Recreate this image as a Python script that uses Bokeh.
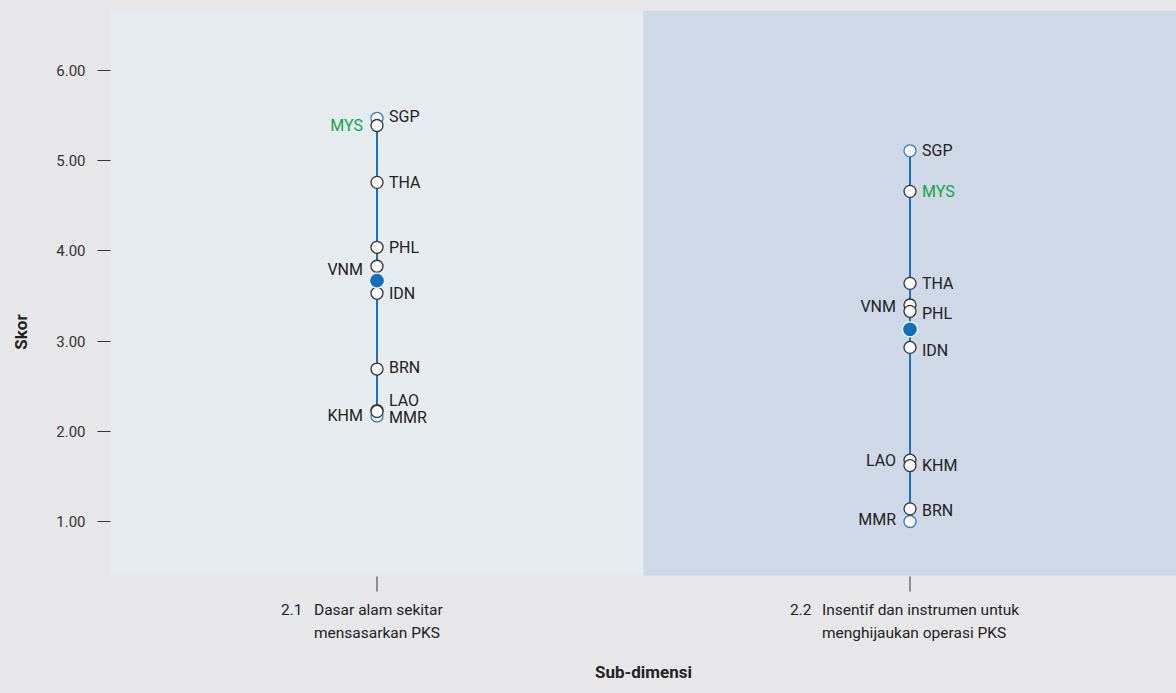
from bokeh.plotting import figure
from bokeh.models import ColumnDataSource, FixedTicker, NumeralTickFormatter, Range1d
from bokeh.core.properties import value
from bokeh.embed import file_html
from bokeh.resources import INLINE

# ---------------- data ----------------
subdim_codes = ["2.1", "2.2"]
subdim_names = [["Dasar alam sekitar", "mensasarkan PKS"],
                ["Insentif dan instrumen untuk", "menghijaukan operasi PKS"]]
countries = ["SGP", "MYS", "THA", "PHL", "VNM", "IDN", "BRN", "LAO", "KHM", "MMR"]
scores_21 = [5.47, 5.39, 4.76, 4.04, 3.83, 3.53, 2.69, 2.23, 2.22, 2.17]
scores_22 = [5.11, 4.66, 3.64, 3.33, 3.40, 2.93, 1.14, 1.68, 1.62, 1.00]
mean_scores = [3.67, 3.13]
y_ticks = [1, 2, 3, 4, 5, 6]
highlight = "MYS"

# label placement (side, vertical pixel nudge) -- styling only
label_place = [
    {"SGP": ("R", -2), "MYS": ("L", 0), "THA": ("R", 0), "PHL": ("R", 0), "VNM": ("L", 3),
     "IDN": ("R", 0), "BRN": ("R", -2), "LAO": ("R", -10), "KHM": ("L", 4), "MMR": ("R", 2)},
    {"SGP": ("R", 0), "MYS": ("R", 0), "THA": ("R", 0), "PHL": ("R", 2), "VNM": ("L", 1),
     "IDN": ("R", 3), "BRN": ("R", 2), "LAO": ("L", 0), "KHM": ("R", 0), "MMR": ("L", -2)},
]

# ---------------- style ----------------
FONT = "Roboto"
PAGE_BG = "#E7E7E9"
PANEL_COLORS = ["#E6EBF0", "#CED8E6"]
LINE_BLUE = "#1A72BA"
MEAN_BLUE = "#1170B8"
EXT_BLUE = "#2A7FC4"
DARK = "#333333"
TEXT = "#222222"
GREEN = "#14A24B"

W, H = 1176, 693
BORDER_L, BORDER_T, BORDER_B = 110, 10, 40
frame_top, frame_bot = BORDER_T, H - BORDER_B
ppu = (521 - 70) / 5.0
y_end = 6 + (70 - frame_top) / ppu
y_start = 1 - (frame_bot - 521) / ppu
panel_bottom = 1 - (575 - 521) / ppu
x_end = (W - BORDER_L) / 533.0

p = figure(width=W, height=H, output_backend="svg", toolbar_location=None,
           x_range=Range1d(0, x_end), y_range=Range1d(y_start, y_end),
           min_border_left=BORDER_L, min_border_right=0, min_border_top=BORDER_T,
           min_border_bottom=BORDER_B)
p.styles = {"background-color": PAGE_BG}
p.background_fill_alpha = 0
p.border_fill_alpha = 0
p.outline_line_color = None
p.grid.visible = False

# panels
p.quad(left=[0, 1], right=[1, 2], bottom=[panel_bottom] * 2, top=[y_end] * 2,
       fill_color=PANEL_COLORS, line_color=None)

all_scores = [scores_21, scores_22]
lab = dict(x=[], y=[], text=[], color=[], align=[], xo=[], yo=[])
for i, sc in enumerate(all_scores):
    xc = i + 0.5
    lo, hi = min(sc), max(sc)
    p.segment(x0=[xc], y0=[lo], x1=[xc], y1=[hi], line_color=LINE_BLUE, line_width=2)
    ext = [s for s in sc if s in (lo, hi)]
    p.scatter(x=[xc] * len(ext), y=ext, size=12, fill_color="white",
              line_color=EXT_BLUE, line_width=1.3)
    others = sorted([s for s in sc if s not in (lo, hi)], reverse=True)
    p.scatter(x=[xc] * len(others), y=others, size=12, fill_color="white",
              line_color=DARK, line_width=1.3)
    p.scatter(x=[xc], y=[mean_scores[i]], size=15, fill_color=MEAN_BLUE,
              line_color="white", line_width=1.2)
    for c, s in zip(countries, sc):
        side, dy = label_place[i][c]
        lab["x"].append(xc)
        lab["y"].append(s)
        lab["text"].append(c)
        lab["color"].append(GREEN if c == highlight else TEXT)
        lab["align"].append("left" if side == "R" else "right")
        lab["xo"].append(12 if side == "R" else -14)
        lab["yo"].append(dy)

src = ColumnDataSource(lab)
p.text(x="x", y="y", text="text", source=src, text_color="color", text_align="align",
       x_offset="xo", y_offset="yo", text_baseline="middle",
       text_font=value(FONT), text_font_size="16px")

# category ticks and labels
for i, (code, lines) in enumerate(zip(subdim_codes, subdim_names)):
    xc = i + 0.5
    p.segment(x0=[xc], y0=[panel_bottom - 1 / ppu], x1=[xc], y1=[panel_bottom - 16 / ppu],
              line_color=DARK, line_width=1)
    code_off = -96 if i == 0 else -120
    body_off = -63 if i == 0 else -88
    p.text(x=[xc], y=[panel_bottom], text=[code], x_offset=code_off, y_offset=34,
           text_align="left", text_baseline="middle", text_font=value(FONT),
           text_font_size="15.5px", text_color=TEXT)
    p.text(x=[xc, xc], y=[panel_bottom, panel_bottom], text=lines, x_offset=body_off,
           y_offset=[34, 57], text_align="left", text_baseline="middle",
           text_font=value(FONT), text_font_size="15.5px", text_color=TEXT)

# y axis
ya = p.yaxis[0]
ya.ticker = FixedTicker(ticks=y_ticks)
ya.formatter = NumeralTickFormatter(format="0.00")
ya.axis_line_color = None
ya.major_tick_out = 13
ya.major_tick_in = 0
ya.minor_tick_line_color = None
ya.major_tick_line_color = DARK
ya.major_label_standoff = 12
ya.major_label_text_font = FONT
ya.major_label_text_font_size = "15px"
ya.major_label_text_color = DARK
ya.axis_label = "Skor"
ya.axis_label_text_font = FONT
ya.axis_label_text_font_style = "bold"
ya.axis_label_text_font_size = "17px"
ya.axis_label_text_color = TEXT
ya.axis_label_standoff = 22

# x axis (title only)
xa = p.xaxis[0]
xa.ticker = FixedTicker(ticks=[])
xa.axis_line_color = None
xa.major_tick_out = 0
xa.major_tick_in = 0
xa.minor_tick_line_color = None
xa.major_label_text_font_size = "0px"
xa.axis_label = "Sub-dimensi"
xa.axis_label_text_font = FONT
xa.axis_label_text_font_style = "bold"
xa.axis_label_text_font_size = "17px"
xa.axis_label_text_color = TEXT
xa.axis_label_standoff = 8

open("out.html", "w").write(file_html(p, INLINE))
